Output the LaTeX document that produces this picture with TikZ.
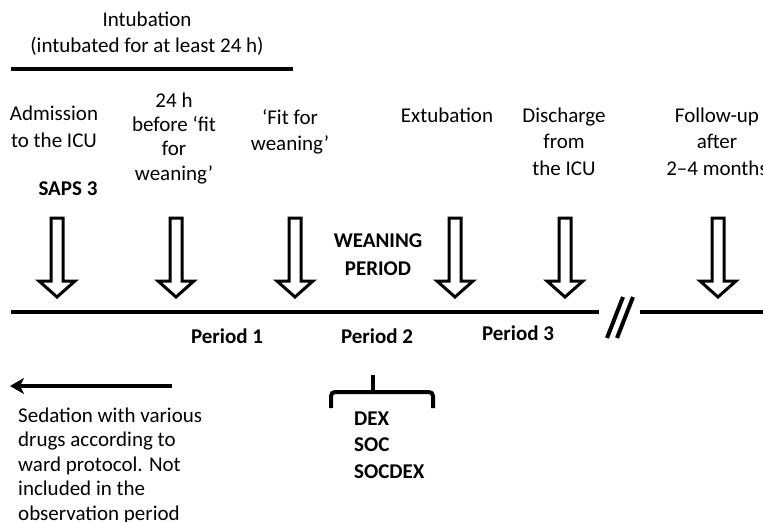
\documentclass[tikz,border=0pt]{standalone}
\usepackage{fontspec}
\setmainfont{Carlito}
\usetikzlibrary{arrows.meta}
\tikzset{
  lbl/.style={align=center, inner sep=0pt, anchor=base, font=\fontsize{21}{26}\selectfont},
  blbl/.style={lbl, font=\fontsize{21}{26}\selectfont\bfseries},
  sedtxt/.style={align=left, inner sep=0pt, anchor=base west, font=\fontsize{21}{24.5}\selectfont},
  thick line/.style={line width=4pt},
  hollow/.style={draw, line width=3pt, fill=white, line join=miter},
}
\newcommand\hollowarrow[1]{%
  \path[hollow] (#1-6,218) -- (#1+6,218) -- (#1+6,281) -- (#1+18,281) -- (#1,297) -- (#1-18,281) -- (#1-6,281) -- cycle;}
\begin{document}
\begin{tikzpicture}[x=1pt,y=-1pt]
\useasboundingbox (0,0) rectangle (763,522);
% intubation (anchor=base refers to the last line's baseline)
\node[lbl, font=\fontsize{21}{25}\selectfont] (intub) at (147,52) {Intubation\\(intubated for at least 24 h)};
\coordinate (intL) at (11,69);
\coordinate (intR) at (293,69);
\draw[thick line] (intL) -- (intR);
% labels
\node[lbl, font=\fontsize{21}{27}\selectfont] (adm) at (54,147) {Admission\\to the ICU};
\node[blbl] (saps) at (68,195) {SAPS 3};
\node[lbl, font=\fontsize{21}{24.2}\selectfont] (before) at (174,180) {24 h\\before ‘fit\\for\\weaning’};
\node[lbl] (fit) at (290,150) {‘Fit for\\weaning’};
\node[lbl] (ext) at (447,122) {Extubation};
\node[lbl, font=\fontsize{21}{26.5}\selectfont] (dis) at (564,175) {Discharge\\from\\the ICU};
\node[lbl, font=\fontsize{21}{26.5}\selectfont] (fol) at (717,175) {Follow-up\\after\\2–4 months};
\node[blbl, font=\fontsize{21}{28}\selectfont\bfseries] (wean) at (378,275) {WEANING\\PERIOD};
% hollow arrows
\foreach \xx in {57,176,295,455,565,718} {\hollowarrow{\xx}}
% timeline
\coordinate (tlA) at (11,312);
\coordinate (tlB) at (599,312);
\coordinate (tlC) at (640,312);
\coordinate (tlD) at (763,312);
\draw[thick line] (tlA) -- (tlB);
\draw[thick line] (tlC) -- (tlD);
\draw[line width=4pt] (607,338) -- (623,297);
\draw[line width=4pt] (617,338) -- (633,297);
% periods
\node[blbl] (p1) at (227,343) {Period 1};
\node[blbl] (p2) at (377,343) {Period 2};
\node[blbl] (p3) at (518,340) {Period 3};
% sedation arrow
\coordinate (sedR) at (172,386);
\coordinate (sedL) at (10,386);
\draw[thick line, -{Stealth[length=14pt,width=16pt,inset=4pt]}] (sedR) -- (sedL);
\node[sedtxt] (sed) at (18,520) {Sedation with various\\drugs according to\\ward protocol. Not\\included in the\\observation period};
% brace
\draw[line width=4pt, rounded corners=4pt] (331,408) -- (331,392) -- (433,392) -- (433,408);
\draw[line width=4pt] (373,392) -- (373,375);
\node[blbl, align=left, anchor=base west, font=\fontsize{21}{26.5}\selectfont\bfseries] (drugs) at (354,478) {DEX\\SOC\\SOCDEX};
\end{tikzpicture}
\end{document}
